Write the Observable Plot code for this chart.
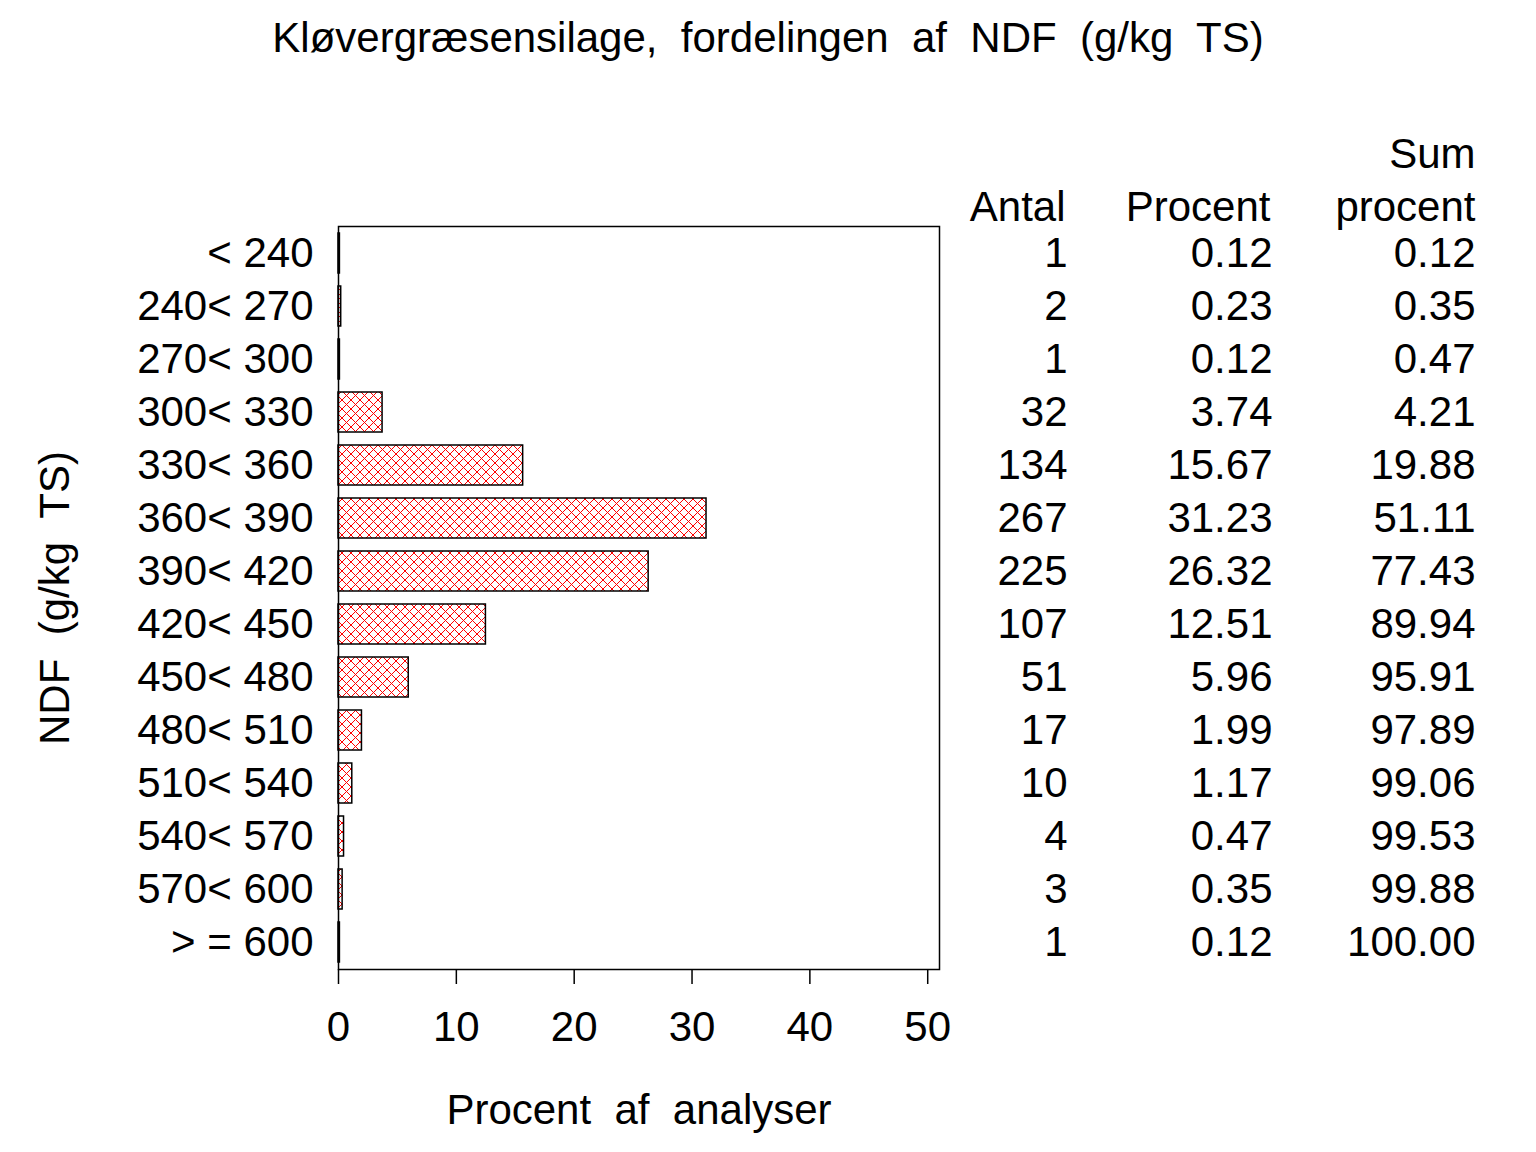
<!DOCTYPE html>
<html><head><meta charset="utf-8">
<script src="https://cdn.jsdelivr.net/npm/d3@7"></script>
<script src="https://cdn.jsdelivr.net/npm/@observablehq/plot@0.6"></script>
<style>
body{margin:0;background:#fff;font-family:"Liberation Sans",Arial,sans-serif;}
#title{height:76px;width:1536px;text-align:center;font-size:42px;line-height:76px;white-space:pre;color:#000;}
</style></head><body>
<div id="title">Kløvergræsensilage,  fordelingen  af  NDF  (g/kg  TS)</div>
<div id="chart"></div>
<script>
const categories = ["< 240","240< 270","270< 300","300< 330","330< 360","360< 390","390< 420","420< 450","450< 480","480< 510","510< 540","540< 570","570< 600","> = 600"];
const antal = [1,2,1,32,134,267,225,107,51,17,10,4,3,1];
const procent = [0.12,0.23,0.12,3.74,15.67,31.23,26.32,12.51,5.96,1.99,1.17,0.47,0.35,0.12];
const sumProcent = [0.12,0.35,0.47,4.21,19.88,51.11,77.43,89.94,95.91,97.89,99.06,99.53,99.88,100.00];
const xTicks = [0,10,20,30,40,50];
const xAxisLabel = "Procent\u00A0\u00A0af\u00A0\u00A0analyser";
const yAxisLabel = "NDF\u00A0\u00A0(g/kg\u00A0\u00A0TS)";

const data = categories.map((c,i)=>({cat:c, antal:antal[i], procent:procent[i], sum:sumProcent[i]}));
const FS = 42;
const chart = Plot.plot({
  width:1536, height:1076,
  marginTop:150, marginBottom:183, marginLeft:338, marginRight:597,
  style:{fontSize:FS+"px", fontFamily:"'Liberation Sans', Arial, sans-serif", color:"#000", background:"#fff"},
  x:{domain:[0,51]},
  y:{domain:categories, paddingInner:0.25, paddingOuter:0.125},
  marks:[
    Plot.barX(data,{y:"cat", x:"procent", fill:"url(#xhatch)", stroke:"black", strokeWidth:1.5}),
    Plot.frame({stroke:"black", strokeWidth:1.5}),
    Plot.axisX({ticks:xTicks, tickSize:15, tickPadding:27, label:null, fontSize:FS, strokeWidth:1.5}),
    Plot.axisY({tickSize:0, tickPadding:25, label:null, fontSize:FS}),
    Plot.text([xAxisLabel],{text:d=>d, frameAnchor:"bottom", dy:141, lineAnchor:"middle", fontSize:FS}),
    Plot.text([yAxisLabel],{text:d=>d, frameAnchor:"left", dx:-283, rotate:-90, textAnchor:"middle", lineAnchor:"middle", fontSize:FS}),
    Plot.text(data,{y:"cat", text:d=>String(d.antal), frameAnchor:"right", dx:128, textAnchor:"end", fontSize:FS}),
    Plot.text(data,{y:"cat", text:d=>d.procent.toFixed(2), frameAnchor:"right", dx:333, textAnchor:"end", fontSize:FS}),
    Plot.text(data,{y:"cat", text:d=>d.sum.toFixed(2), frameAnchor:"right", dx:536, textAnchor:"end", fontSize:FS}),
    Plot.text(["Antal"],{text:d=>d, frameAnchor:"top-right", dx:126, dy:-19, lineAnchor:"middle", textAnchor:"end", fontSize:FS}),
    Plot.text(["Procent"],{text:d=>d, frameAnchor:"top-right", dx:331, dy:-19, lineAnchor:"middle", textAnchor:"end", fontSize:FS}),
    Plot.text(["procent"],{text:d=>d, frameAnchor:"top-right", dx:536, dy:-19, lineAnchor:"middle", textAnchor:"end", fontSize:FS}),
    Plot.text(["Sum"],{text:d=>d, frameAnchor:"top-right", dx:536, dy:-72, lineAnchor:"middle", textAnchor:"end", fontSize:FS})
  ]
});
d3.select(chart).insert("defs",":first-child").html(
  `<pattern id="xhatch" patternUnits="userSpaceOnUse" width="9" height="9">
     <rect width="9" height="9" fill="white"/>
     <path d="M0,0L9,9M9,0L0,9" stroke="red" stroke-width="1"/>
   </pattern>`);
document.getElementById("chart").appendChild(chart);
</script>
</body></html>
